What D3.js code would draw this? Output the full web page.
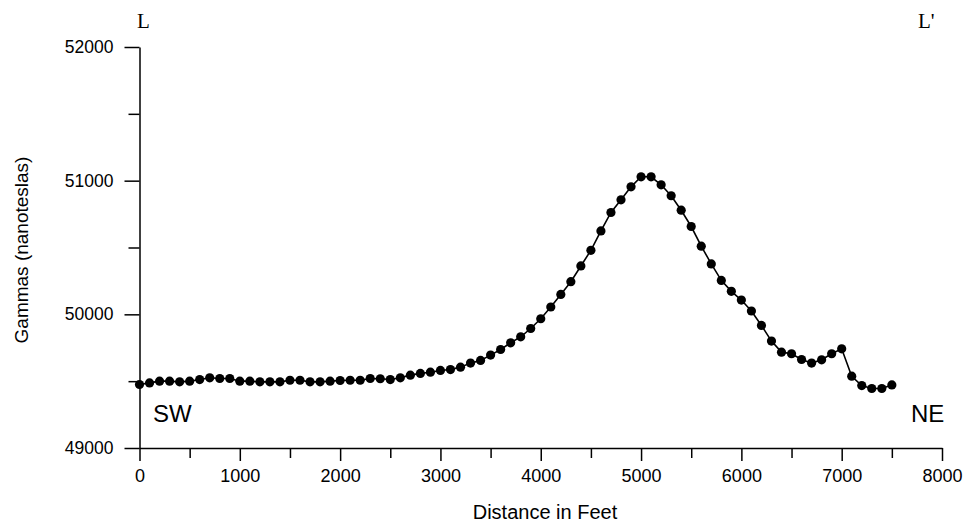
<!DOCTYPE html>
<html>
<head>
<meta charset="utf-8">
<script src="https://cdn.jsdelivr.net/npm/d3@7"></script>
<style>
  body { margin: 0; background: #fff; }
  svg { display: block; }
  .axis path, .axis line { stroke: #000; stroke-width: 1.5px; }
</style>
</head>
<body>
<div id="chart"></div>
<script>
// distance along profile L-L' (feet), one reading every 100 ft
var distance = d3.range(0, 7600, 100);
// total field in gammas
var gammas = [
  49475, 49487, 49500, 49500, 49495, 49500, 49512, 49525, 49520, 49520,
  49500, 49500, 49495, 49495, 49495, 49507, 49507, 49495, 49495, 49500,
  49505, 49507, 49507, 49520, 49518, 49512, 49525, 49545, 49558, 49567,
  49580, 49587, 49605, 49635, 49655, 49695, 49737, 49787, 49832, 49894,
  49967, 50055, 50149, 50244, 50362, 50479, 50624, 50762, 50857, 50954,
  51029, 51029, 50969, 50887, 50779, 50657, 50510, 50377, 50254, 50172,
  50107, 50025, 49917, 49800, 49717, 49705, 49662, 49635, 49660, 49705,
  49742, 49537, 49467, 49445, 49445, 49472
];
var xMajor = [0, 1000, 2000, 3000, 4000, 5000, 6000, 7000, 8000];
var xMinor = [500, 1500, 2500, 3500, 4500, 5500, 6500, 7500];
var yMajor = [49000, 50000, 51000, 52000];
var yMinor = [49500, 50500, 51500];

var sans = "Liberation Sans, Arial, sans-serif";
var serif = "Liberation Serif, Times New Roman, serif";

var width = 972, height = 528;
var svg = d3.select("#chart").append("svg")
    .attr("width", width)
    .attr("height", height);

var x = d3.scaleLinear().domain([0, 8000]).range([139.5, 942]);
var y = d3.scaleLinear().domain([49000, 52000]).range([448, 47]);

// minor ticks first, no labels
svg.append("g").attr("class", "axis")
    .attr("transform", "translate(0,448)")
    .call(d3.axisBottom(x).tickValues(xMinor).tickSize(10).tickFormat(""))
    .call(g => g.select(".domain").remove());
svg.append("g").attr("class", "axis")
    .attr("transform", "translate(139.5,0)")
    .call(d3.axisLeft(y).tickValues(yMinor).tickSize(11).tickFormat(""))
    .call(g => g.select(".domain").remove());

var xAxis = svg.append("g").attr("class", "axis")
    .attr("transform", "translate(0,448)")
    .call(d3.axisBottom(x).tickValues(xMajor).tickSize(13).tickSizeOuter(0).tickPadding(8).tickFormat(d3.format("d")));
xAxis.selectAll(".tick text")
    .style("font-family", sans).style("font-size", "18px").attr("fill", "#000");

var yAxis = svg.append("g").attr("class", "axis")
    .attr("transform", "translate(139.5,0)")
    .call(d3.axisLeft(y).tickValues(yMajor).tickSize(15).tickSizeOuter(0).tickPadding(11).tickFormat(d3.format("d")));
yAxis.selectAll(".tick text")
    .style("font-family", sans).style("font-size", "17.5px").attr("fill", "#000");

// axis titles
svg.append("text")
    .attr("x", 545).attr("y", 519)
    .attr("text-anchor", "middle")
    .style("font-family", sans)
    .style("font-size", "20px")
    .text("Distance in Feet");
svg.append("text")
    .attr("transform", "translate(28,250) rotate(-90)")
    .attr("text-anchor", "middle")
    .style("font-family", sans)
    .style("font-size", "19px")
    .text("Gammas (nanoteslas)");

// profile end labels
svg.append("text").attr("x", 137).attr("y", 28)
    .style("font-family", serif)
    .style("font-size", "21px").text("L");
svg.append("text").attr("x", 918).attr("y", 28)
    .style("font-family", serif)
    .style("font-size", "21px").text("L'");
svg.append("text").attr("x", 153).attr("y", 422)
    .style("font-family", sans)
    .style("font-size", "24px").text("SW");
svg.append("text").attr("x", 911).attr("y", 422)
    .style("font-family", sans)
    .style("font-size", "24px").text("NE");

var data = distance.map((d, i) => ({dist: d, val: gammas[i]}));

var line = d3.line()
    .x(d => x(d.dist))
    .y(d => y(d.val));

svg.append("path")
    .datum(data)
    .attr("fill", "none")
    .attr("stroke", "#000")
    .attr("stroke-width", 1.6)
    .attr("d", line);

svg.append("g")
    .selectAll("circle")
    .data(data)
    .join("circle")
    .attr("cx", d => x(d.dist))
    .attr("cy", d => y(d.val))
    .attr("r", 4.6)
    .attr("fill", "#000");
</script>
</body>
</html>
